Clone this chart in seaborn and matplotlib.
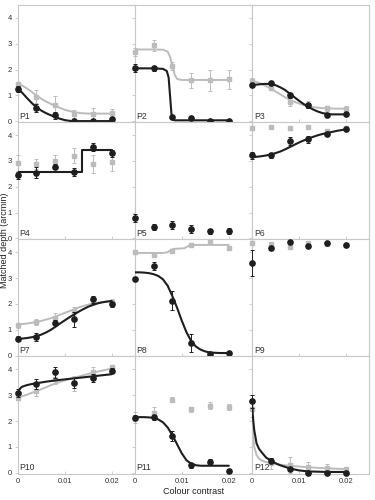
import matplotlib
matplotlib.use("Agg")
import matplotlib.pyplot as plt
import pandas as pd
import seaborn as sns

# measured contrasts and panel names
CONTRAST = [0, 0.004, 0.008, 0.012, 0.016, 0.02]
PANELS = ["P1", "P2", "P3", "P4", "P5", "P6", "P7", "P8", "P9", "P10", "P11", "P12"]

BLACK_MEAN = [
    [1.25, 0.53, 0.23, 0.0, 0.0, 0.1],
    [2.05, 2.06, 0.17, 0.13, 0.0, 0.0],
    [1.40, 1.49, 1.01, 0.62, 0.26, 0.27],
    [2.44, 2.55, 2.77, 2.56, 3.53, 3.29],
    [0.80, 0.43, 0.53, 0.38, 0.27, 0.29],
    [3.21, 3.21, 3.77, 3.83, 4.04, 4.25],
    [0.65, 0.73, 1.27, 1.40, 2.17, 1.99],
    [2.97, 3.48, 2.13, 0.49, 0.08, 0.10],
    [3.57, 4.17, 4.39, 4.22, 4.36, 4.26],
    [3.07, 3.43, 3.88, 3.46, 3.65, 3.95],
    [2.13, 2.15, 1.41, 0.29, 0.40, 0.08],
    [2.77, 0.47, 0.14, 0.0, 0.0, 0.0],
]
BLACK_ERR = [
    [0.1, 0.15, 0.12, 0.05, 0.05, 0.05],
    [0.15, 0.1, 0.08, 0.08, 0.05, 0.05],
    [0.08, 0.08, 0.1, 0.1, 0.08, 0.08],
    [0.15, 0.2, 0.1, 0.15, 0.15, 0.15],
    [0.15, 0.12, 0.15, 0.15, 0.1, 0.1],
    [0.15, 0.08, 0.15, 0.12, 0.08, 0.05],
    [0.1, 0.15, 0.1, 0.3, 0.15, 0.1],
    [0.08, 0.15, 0.35, 0.35, 0.05, 0.05],
    [0.5, 0.05, 0.05, 0.05, 0.05, 0.05],
    [0.15, 0.2, 0.2, 0.2, 0.15, 0.1],
    [0.1, 0.1, 0.2, 0.1, 0.12, 0.05],
    [0.25, 0.1, 0.05, 0.05, 0.05, 0.05],
]
GREY_MEAN = [
    [1.44, 0.96, 0.62, 0.27, 0.30, 0.31],
    [2.68, 2.94, 2.13, 1.58, 1.58, 1.62],
    [1.57, 1.30, 0.75, 0.65, 0.51, 0.49],
    [2.92, 2.88, 2.99, 3.20, 2.88, 2.95],
    None,
    [4.26, 4.32, 4.26, 4.32, 4.16, 4.26],
    [1.18, 1.30, 1.45, 1.73, 2.08, 2.09],
    [4.00, 3.90, 4.06, 4.29, 4.39, 4.17],
    [4.36, 4.30, 4.19, 4.36, 4.30, 4.26],
    [2.90, 3.15, 3.63, 3.46, 3.88, 4.08],
    [2.13, 2.31, 2.82, 2.45, 2.60, 2.54],
    [2.45, 0.36, 0.29, 0.23, 0.17, 0.14],
]
GREY_ERR = [
    [0.1, 0.25, 0.35, 0.15, 0.2, 0.15],
    [0.15, 0.2, 0.15, 0.3, 0.4, 0.35],
    [0.1, 0.1, 0.15, 0.15, 0.1, 0.1],
    [0.3, 0.2, 0.25, 0.3, 0.35, 0.35],
    None,
    [0.05, 0.05, 0.05, 0.05, 0.08, 0.05],
    [0.1, 0.1, 0.2, 0.15, 0.1, 0.1],
    [0.05, 0.05, 0.05, 0.05, 0.05, 0.05],
    [0.05, 0.05, 0.05, 0.05, 0.05, 0.05],
    [0.1, 0.2, 0.2, 0.3, 0.2, 0.1],
    [0.2, 0.25, 0.1, 0.1, 0.15, 0.1],
    [0.3, 0.2, 0.3, 0.2, 0.15, 0.1],
]

# fitted curves
FIT_X = [0, 0.001, 0.002, 0.003, 0.004, 0.005, 0.006, 0.007, 0.008, 0.009, 0.01,
         0.011, 0.012, 0.013, 0.014, 0.015, 0.016, 0.017, 0.018, 0.019, 0.02]

BLACK_FIT_X = [
    FIT_X,
    [0, 0.002, 0.004, 0.006, 0.0068, 0.0072, 0.0075, 0.0078, 0.008, 0.0085, 0.01, 0.015, 0.02],
    FIT_X,
    [0, 0.0136, 0.0136, 0.02],
    None,
    FIT_X,
    FIT_X,
    FIT_X,
    None,
    [0, 0.0003, 0.0007, 0.001, 0.002, 0.003, 0.004, 0.006, 0.008, 0.01, 0.012, 0.014, 0.016, 0.018, 0.02],
    FIT_X,
    [0, 0.00025, 0.0005, 0.001, 0.0015, 0.002, 0.003, 0.004, 0.005, 0.006, 0.008, 0.01, 0.012, 0.016, 0.02],
]
BLACK_FIT_Y = [
    [1.28, 1.10, 0.90, 0.71, 0.54, 0.42, 0.32, 0.24, 0.17, 0.10, 0.05, 0.02, 0.01,
     0.01, 0.01, 0.01, 0.01, 0.01, 0.01, 0.01, 0.01],
    [2.05, 2.05, 2.05, 2.03, 1.95, 1.7, 1.0, 0.3, 0.08, 0.04, 0.04, 0.04, 0.04],
    [1.40, 1.42, 1.44, 1.45, 1.44, 1.40, 1.32, 1.22, 1.08, 0.94, 0.80, 0.67, 0.56,
     0.46, 0.38, 0.32, 0.29, 0.27, 0.27, 0.27, 0.27],
    [2.58, 2.58, 3.42, 3.42],
    None,
    [3.14, 3.16, 3.18, 3.21, 3.25, 3.30, 3.36, 3.44, 3.53, 3.62, 3.71, 3.79, 3.86,
     3.93, 3.99, 4.04, 4.08, 4.12, 4.16, 4.19, 4.22],
    [0.65, 0.66, 0.68, 0.71, 0.75, 0.81, 0.89, 0.99, 1.11, 1.24, 1.36, 1.48, 1.59,
     1.70, 1.80, 1.89, 1.96, 2.02, 2.06, 2.09, 2.11],
    [3.22, 3.22, 3.21, 3.19, 3.15, 3.08, 2.95, 2.70, 2.30, 1.85, 1.35, 0.90, 0.56,
     0.35, 0.23, 0.16, 0.12, 0.11, 0.10, 0.10, 0.10],
    None,
    [3.05, 3.2, 3.29, 3.33, 3.39, 3.43, 3.46, 3.52, 3.57, 3.61, 3.65, 3.69, 3.73, 3.77, 3.81],
    [2.15, 2.15, 2.15, 2.14, 2.12, 2.06, 1.95, 1.75, 1.45, 1.10, 0.75, 0.48, 0.35,
     0.29, 0.27, 0.27, 0.27, 0.27, 0.27, 0.27, 0.27],
    [2.77, 2.1, 1.65, 1.13, 0.93, 0.81, 0.59, 0.47, 0.37, 0.29, 0.17, 0.09, 0.05, 0.03, 0.03],
]

GREY_FIT_X = [
    FIT_X,
    [0, 0.004, 0.006, 0.007, 0.0075, 0.008, 0.0085, 0.009, 0.01, 0.02],
    FIT_X,
    None,
    None,
    None,
    FIT_X,
    [0, 0.006, 0.007, 0.0078, 0.0085, 0.0105, 0.0115, 0.0125, 0.02],
    None,
    FIT_X,
    None,
    [0, 0.00025, 0.0005, 0.001, 0.0015, 0.002, 0.003, 0.004, 0.006, 0.008, 0.012, 0.016, 0.02],
]
GREY_FIT_Y = [
    [1.45, 1.38, 1.27, 1.14, 1.0, 0.88, 0.77, 0.68, 0.60, 0.52, 0.45, 0.40, 0.36,
     0.33, 0.31, 0.30, 0.30, 0.30, 0.30, 0.30, 0.30],
    [2.78, 2.78, 2.77, 2.7, 2.5, 2.15, 1.8, 1.64, 1.6, 1.6],
    [1.56, 1.52, 1.45, 1.37, 1.27, 1.16, 1.05, 0.94, 0.84, 0.76, 0.69, 0.63, 0.59,
     0.55, 0.53, 0.51, 0.50, 0.50, 0.49, 0.49, 0.49],
    None,
    None,
    None,
    [1.21, 1.22, 1.24, 1.27, 1.30, 1.34, 1.39, 1.44, 1.51, 1.58, 1.65, 1.72, 1.79,
     1.86, 1.92, 1.97, 2.01, 2.04, 2.07, 2.09, 2.11],
    [3.97, 3.97, 4.0, 4.1, 4.13, 4.15, 4.25, 4.28, 4.28],
    None,
    [2.90, 2.96, 3.02, 3.09, 3.15, 3.23, 3.30, 3.38, 3.45, 3.51, 3.57, 3.62, 3.67,
     3.72, 3.77, 3.82, 3.87, 3.91, 3.95, 3.99, 4.03],
    None,
    [2.45, 1.5, 1.0, 0.68, 0.55, 0.48, 0.41, 0.37, 0.31, 0.27, 0.21, 0.17, 0.14],
]

BLACK = "#1e1e1e"
GREY = "#bcbcbc"
FRAME = "#c8c8c8"

sns.set_theme(style="white")
plt.rcParams["font.family"] = ["Liberation Sans", "DejaVu Sans"]

fig, axes = plt.subplots(4, 3, figsize=(3.75, 5), dpi=100, sharex=True, sharey=True)
fig.subplots_adjust(left=0.047, right=0.984, top=0.99, bottom=0.053, wspace=0, hspace=0)

for i, ax in enumerate(axes.flat):
    # grey fit and points first, black on top
    if GREY_FIT_X[i] is not None:
        gfit = pd.DataFrame({"x": GREY_FIT_X[i], "y": GREY_FIT_Y[i]})
        sns.lineplot(data=gfit, x="x", y="y", ax=ax, color=GREY, lw=1.4,
                     estimator=None, sort=False, zorder=2)
    if GREY_MEAN[i] is not None:
        ax.errorbar(CONTRAST, GREY_MEAN[i], yerr=GREY_ERR[i], fmt="s", ms=3.4,
                    color=GREY, ecolor=GREY, elinewidth=0.7, capsize=1.5,
                    capthick=0.7, clip_on=False, zorder=3)
    if BLACK_FIT_X[i] is not None:
        bfit = pd.DataFrame({"x": BLACK_FIT_X[i], "y": BLACK_FIT_Y[i]})
        sns.lineplot(data=bfit, x="x", y="y", ax=ax, color=BLACK, lw=1.5,
                     estimator=None, sort=False, zorder=4)
    ax.errorbar(CONTRAST, BLACK_MEAN[i], yerr=BLACK_ERR[i], fmt="o", ms=3.8,
                color=BLACK, ecolor=BLACK, elinewidth=0.7, capsize=1.5,
                capthick=0.7, clip_on=False, zorder=5)

    ax.text(0.0004, 0.1, PANELS[i], fontsize=6.2, color="#333333", zorder=6)
    ax.set_xlabel("")
    ax.set_ylabel("")
    for sp in ax.spines.values():
        sp.set_color(FRAME)
        sp.set_linewidth(0.8)
    ax.tick_params(axis="y", direction="out", length=2.5, width=0.6, color=FRAME,
                   labelsize=5.5, labelcolor="#333333", pad=1.5, left=True)
    ax.tick_params(axis="x", direction="in", length=2.5, width=0.6, color=FRAME,
                   labelsize=5.5, labelcolor="#333333", pad=3, bottom=True)

axes[0, 0].set_xlim(0, 0.0249)
axes[0, 0].set_ylim(-0.03, 4.5)
axes[0, 0].set_yticks([0, 1, 2, 3, 4])
axes[0, 0].set_xticks([0, 0.01, 0.02])
for ax in axes[3]:
    ax.set_xticklabels(["0", "0.01", "0.02"])

axes[3, 1].set_xlabel("Colour contrast", fontsize=6.5, color="#222222", labelpad=2)
fig.text(0.012, 0.52, "Matched depth (arcmin)", rotation=90, va="center",
         ha="center", fontsize=6.5, color="#222222")

fig.savefig("out.png", dpi=100)
